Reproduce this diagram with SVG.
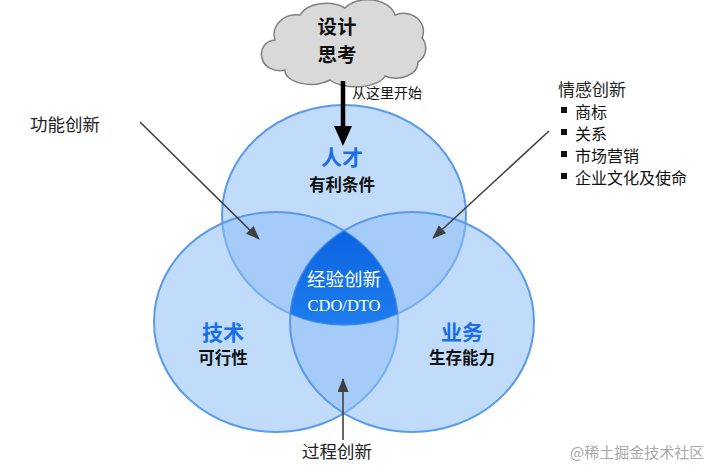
<svg xmlns="http://www.w3.org/2000/svg" width="720" height="475" viewBox="0 0 720 475">
<style>
.c{fill:#8EC0F5;fill-opacity:0.55;stroke:#5A9AEB;stroke-width:2}
.cjk{font-family:"Noto Sans CJK SC","Noto Sans",sans-serif}
.ttl{font-weight:bold;fill:#1A6FE6;font-size:21px;text-anchor:middle}
.sub{font-weight:bold;fill:#111;font-size:16.5px;text-anchor:middle}
.lbl{font-size:17.5px;fill:#222}
.arr{stroke:#404040;stroke-width:1.6;fill:none;marker-end:url(#ah)}
</style>
<defs>
<marker id="ah" markerUnits="userSpaceOnUse" markerWidth="14" markerHeight="11" refX="13" refY="5.5" orient="auto">
<path d="M0,0 L14,5.5 L0,11 Z" fill="#404040"/>
</marker>
<linearGradient id="dk" x1="0" y1="0" x2="0" y2="1">
<stop offset="0" stop-color="#0A64E0"/>
<stop offset="1" stop-color="#1F7DEE"/>
</linearGradient>
</defs>
<rect width="720" height="475" fill="#fff"/>
<g id="node-talent"><ellipse class="c" cx="344" cy="215" rx="122" ry="110"/></g>
<g id="node-tech"><ellipse class="c" cx="276" cy="322" rx="122" ry="110"/></g>
<g id="node-business"><ellipse class="c" cx="412" cy="322" rx="122" ry="110"/></g>
<g id="node-experience">
<path d="M344,230.7 A122,110 0 0 1 397.7,313.8 A122,110 0 0 1 290.3,313.8 A122,110 0 0 1 344,230.7 Z" fill="url(#dk)" stroke="#3F86EC" stroke-width="1"/>
<text class="cjk" x="344" y="286" font-size="18.5" fill="#fff" text-anchor="middle">经验创新</text>
<text x="344" y="311" font-family="'Liberation Serif',serif" font-size="16.5" fill="#fff" text-anchor="middle">CDO/DTO</text>
</g>
<g id="labels" class="cjk">
<text class="ttl" x="342" y="165">人才</text>
<text class="sub" x="342" y="191">有利条件</text>
<text class="ttl" x="223" y="340">技术</text>
<text class="sub" x="223" y="364">可行性</text>
<text class="ttl" x="462" y="340">业务</text>
<text class="sub" x="462" y="364">生存能力</text>
</g>
<g id="node-cloud">
<path d="M275,40 A22,20 0 0 1 300,15 A28,18 0 0 1 345,8 A28,20 0 0 1 395,15 A20,18 0 0 1 422,38 A16,16 0 0 1 418,62 A22,16 0 0 1 385,76 A30,14 0 0 1 330,80 A26,14 0 0 1 285,70 A18,15 0 0 1 262,58 A14,14 0 0 1 275,40 Z" fill="#D9D9D9" stroke="#808080" stroke-width="1.5"/>
<text class="cjk" x="337" y="34" font-size="19.5" font-weight="bold" fill="#111" text-anchor="middle">设计</text>
<text class="cjk" x="337" y="62" font-size="19.5" font-weight="bold" fill="#111" text-anchor="middle">思考</text>
</g>
<g id="node-func"><text class="cjk lbl" x="30" y="131">功能创新</text></g>
<g id="node-emotion" class="cjk">
<text x="558" y="96" font-size="17" fill="#222">情感创新</text>
<g font-size="16" fill="#111">
<rect x="561" y="107" width="6" height="6" fill="#111"/><text x="575" y="118">商标</text>
<rect x="561" y="129" width="6" height="6" fill="#111"/><text x="575" y="140">关系</text>
<rect x="561" y="151" width="6" height="6" fill="#111"/><text x="575" y="162">市场营销</text>
<rect x="561" y="173" width="6" height="6" fill="#111"/><text x="575" y="184">企业文化及使命</text>
</g>
</g>
<g id="node-process"><text class="cjk lbl" x="302" y="458">过程创新</text></g>
<g id="connectors">
<line x1="343" y1="81" x2="343" y2="128" stroke="#000" stroke-width="4.5"/>
<polygon points="334,126 352,126 343,146" fill="#000"/>
<text class="cjk" x="352" y="98" font-size="14" fill="#111">从这里开始</text>
<line class="arr" x1="140" y1="122" x2="259" y2="239"/>
<line class="arr" x1="549" y1="131" x2="433" y2="238"/>
<line class="arr" x1="343" y1="440" x2="343" y2="379"/>
</g>
<text class="cjk" x="570" y="458" font-size="15" fill="#A8A8A8">@稀土掘金技术社区</text>
</svg>
